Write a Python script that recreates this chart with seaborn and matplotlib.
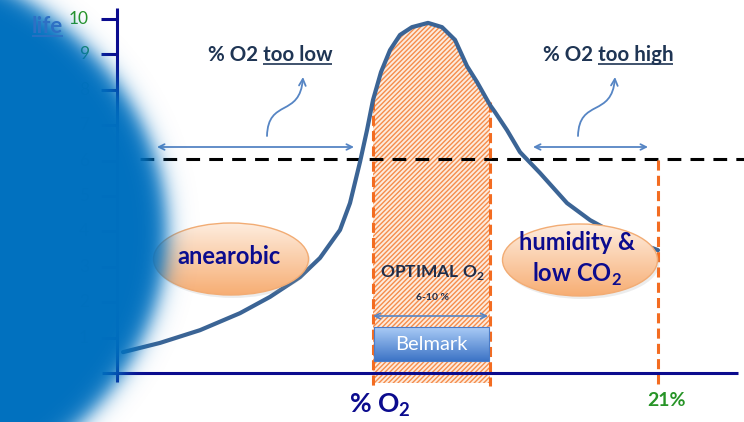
import numpy as np
import pandas as pd
import matplotlib
matplotlib.use("Agg")
import matplotlib.pyplot as plt
import seaborn as sns
from matplotlib.patches import Ellipse, FancyBboxPatch, FancyArrowPatch
from matplotlib.path import Path

# -----------------------
# DATA
# -----------------------
# horizontal position along the % O2 axis (drawing units) and shelf life score
pos = [123, 160, 200, 240, 270, 300, 320, 340, 350, 360, 367, 373, 381, 390, 400,
       412, 428, 442, 455, 467, 477, 490, 495, 507, 520, 540, 567, 590, 610, 633, 658]
shelf_life = [0.59, 0.85, 1.21, 1.69, 2.15, 2.71, 3.25, 4.04, 4.80, 5.96, 6.86, 7.71,
              8.50, 9.12, 9.55, 9.77, 9.89, 9.77, 9.41, 8.67, 8.22, 7.57, 7.37, 6.86,
              6.24, 5.65, 4.80, 4.32, 4.01, 3.73, 3.47]
y_ticks = [1, 2, 3, 4, 5, 6, 7, 8, 9, 10]
y_tick_labels = ["1", "2", "3", "4", "5", "6", "7", "8", "9", "10"]
optimal_lo, optimal_hi = 373, 490      # 6-10 % O2
air_o2 = 658                           # 21 %
threshold = 6.05                       # minimum acceptable shelf life

df = pd.DataFrame({"pos": pos, "life": shelf_life})

# -----------------------
# STYLE
# -----------------------
sns.set_style("white")
plt.rcParams["font.family"] = ["Lato", "DejaVu Sans"]
plt.rcParams["mathtext.fontset"] = "custom"
plt.rcParams["mathtext.rm"] = "Lato"
plt.rcParams["mathtext.bf"] = "Lato:bold"
plt.rcParams["hatch.linewidth"] = 1.0

NAVY = "#0B0B8E"
DARK = "#1F3554"
ORANGE = "#F36C21"
ARROW = "#5685C4"
GREEN = "#279427"
CURVE = "#3B6495"


def Y(px):
    # pixel row -> shelf life units
    return (373 - px) / 35.4


fig = plt.figure(figsize=(7.44, 4.22), dpi=100)
ax = fig.add_axes([0, 0, 1, 1])
ax.set_xlim(0, 744)
ax.set_ylim(Y(422), Y(0))
ax.set_autoscale_on(False)
ax.axis("off")

# optimal band (hatched area under curve)
x = np.array(pos)
ax.fill_between(x, shelf_life, Y(383), where=(x >= optimal_lo) & (x <= optimal_hi),
                facecolor="#FDEBDD", edgecolor="#F58D4C", hatch="///////", linewidth=0,
                zorder=1)

# threshold line
ax.plot([140, 744], [threshold, threshold], color="black", lw=2.2,
        ls=(0, (4.5, 3)), zorder=2)

# orange dashed verticals
for xv, top in [(optimal_lo, Y(100)), (optimal_hi, Y(102)), (air_o2, Y(160))]:
    ax.plot([xv, xv], [top, Y(386)], color=ORANGE, lw=2.2, ls=(0, (3.3, 1.7)), zorder=3)

# curve
sns.lineplot(data=df, x="pos", y="life", ax=ax, color=CURVE, lw=3, sort=False,
             zorder=6, solid_capstyle="round")
ax.axis("off")


# gradient helper
def grad_patch(patch, extent, top, bottom, z):
    ax.add_patch(patch)
    t = np.linspace(0, 1, 64)[:, None, None]
    c0 = np.array(matplotlib.colors.to_rgb(top))
    c1 = np.array(matplotlib.colors.to_rgb(bottom))
    img = np.repeat(c0 * (1 - t) + c1 * t, 2, axis=1)
    im = ax.imshow(img, extent=extent, origin="upper", aspect="auto", zorder=z,
                   interpolation="bilinear")
    im.set_clip_path(patch)


# ellipses
for cxe, cye in [(231, 259), (580, 260)]:
    w, h = 155, 72 / 35.4
    ax.add_patch(Ellipse((cxe + 2, Y(cye + 3)), w, h, facecolor="#999999",
                         alpha=0.18, lw=0, zorder=6.5))
    e = Ellipse((cxe, Y(cye)), w, h, facecolor="none", lw=0, zorder=7)
    grad_patch(e, (cxe - w / 2, cxe + w / 2, Y(cye + 36), Y(cye - 36)),
               "#FEEDDF", "#F7AE74", 7)
    ax.add_patch(Ellipse((cxe, Y(cye)), w, h, facecolor="none",
                         edgecolor="#F2AC74", lw=1, zorder=7.5))

ax.text(229, Y(256), "anearobic", color=NAVY, fontsize=17, fontweight="bold",
        ha="center", va="center", zorder=8)
ax.text(577, Y(243), "humidity &", color=NAVY, fontsize=17, fontweight="bold",
        ha="center", va="center", zorder=8)
ax.text(577, Y(274), r"low CO$_\mathbf{2}$", color=NAVY, fontsize=17, fontweight="bold",
        ha="center", va="center", zorder=8)

# optimal labels
ax.text(432, Y(273), r"OPTIMAL O$_\mathbf{2}$", color="#1F2D4A", fontsize=12.5,
        fontweight="bold", ha="center", va="center", zorder=8)
ax.text(432, Y(298), "6-10 %", color="#1F2D4A", fontsize=7.5, fontweight="bold",
        ha="center", va="center", zorder=8)
ax.annotate("", xy=(373, Y(316)), xytext=(488, Y(316)),
            arrowprops=dict(arrowstyle="<->", color=ARROW, lw=1.2, shrinkA=0, shrinkB=0),
            zorder=8)
box = FancyBboxPatch((374, Y(361)), 115, Y(327) - Y(361), boxstyle="square,pad=0",
                     facecolor="none", lw=0, zorder=8)
grad_patch(box, (374, 489, Y(361), Y(327)), "#A9CBF6", "#3D74C6", 8)
ax.add_patch(FancyBboxPatch((374, Y(361)), 115, Y(327) - Y(361), boxstyle="square,pad=0",
                            facecolor="none", edgecolor="#4A7CC8", lw=0.8, zorder=8.5))
ax.text(431, Y(344), "Belmark", color="white", fontsize=14.5, ha="center", va="center",
        zorder=9)

# too low / too high arrows
for a0, a1 in [(157, 354), (533, 648)]:
    ax.annotate("", xy=(a0, Y(147)), xytext=(a1, Y(147)),
                arrowprops=dict(arrowstyle="<->", color=ARROW, lw=1.3, shrinkA=0, shrinkB=0),
                zorder=8)
for sx, ex in [(267, 303), (578, 615)]:
    p = Path([(sx, Y(136)), (sx + 1, Y(98)), (ex - 3, Y(118)), (ex, Y(77))],
             [Path.MOVETO, Path.CURVE4, Path.CURVE4, Path.CURVE4])
    ax.add_patch(FancyArrowPatch(path=p, arrowstyle="->", mutation_scale=12,
                                 color=ARROW, lw=1.3, zorder=8))

t_low = ax.text(270, Y(55), "% O2 too low", color=DARK, fontsize=14.8, fontweight="bold",
                ha="center", va="center", zorder=8)
t_high = ax.text(608, Y(55), "% O2 too high", color=DARK, fontsize=14.8, fontweight="bold",
                 ha="center", va="center", zorder=8)

# axes lines and ticks
ax.plot([117, 117], [Y(382), Y(8)], color=NAVY, lw=2.2, zorder=10, solid_capstyle="butt")
ax.plot([102, 738], [0, 0], color=NAVY, lw=2.2, zorder=10, solid_capstyle="butt")
ax.hlines(y_ticks, 101, 117, color=NAVY, lw=2.2, zorder=10)
for v, lab in zip(y_ticks, y_tick_labels):
    ax.text(89, v, lab, color=GREEN, fontsize=12.5, ha="right", va="center", zorder=10)

ax.text(380, Y(405), r"% O$_\mathbf{2}$", color=NAVY, fontsize=19, fontweight="bold",
        ha="center", va="center", zorder=10)
ax.text(666, Y(401), "21%", color=GREEN, fontsize=14, fontweight="bold",
        ha="center", va="center", zorder=10)

# blurred blue blob on the left
H, W = 422, 744
XX, YY = np.meshgrid(np.arange(W) + 0.5, np.arange(H) + 0.5)
cx, cy, ea, eb = -170, 232, 337, 285
u = (XX - cx) / ea
w = (YY - cy) / eb
d = np.sqrt(u ** 2 + w ** 2)
g = np.sqrt((u / ea) ** 2 + (w / eb) ** 2) / d
s = (d - 1) / g
alpha = 1 / (1 + np.exp(np.clip(s / 6, -50, 50)))
rgba = np.zeros((H, W, 4))
rgba[..., 0], rgba[..., 1], rgba[..., 2] = 0.0, 0.44, 0.75
rgba[..., 3] = alpha
ax.imshow(rgba, extent=(0, 744, Y(422), Y(0)), origin="upper", aspect="auto",
          zorder=20, interpolation="bilinear")

t_life = ax.text(63, Y(27), "life", color="#2E70C4", fontsize=16, fontweight="bold",
                 ha="right", va="center", zorder=21)

ax.set_xlim(0, 744)
ax.set_ylim(Y(422), Y(0))

# underlines
renderer = fig.canvas.get_renderer()


def underline(txt, word, color, lw, z):
    bb = txt.get_window_extent(renderer)
    tmp = ax.text(0, 0, word, fontproperties=txt.get_fontproperties())
    wd = tmp.get_window_extent(renderer).width
    tmp.remove()
    inv = ax.transData.inverted()
    x0, y0 = inv.transform((bb.x1 - wd, bb.y0 + 1))
    x1, _ = inv.transform((bb.x1, bb.y0 + 1))
    ax.plot([x0, x1], [y0, y0], color=color, lw=lw, solid_capstyle="butt", zorder=z)


underline(t_low, "too low", DARK, 1.2, 8)
underline(t_high, "too high", DARK, 1.2, 8)
underline(t_life, "life", "#2E70C4", 1.2, 21)

fig.savefig("out.png", dpi=100)
